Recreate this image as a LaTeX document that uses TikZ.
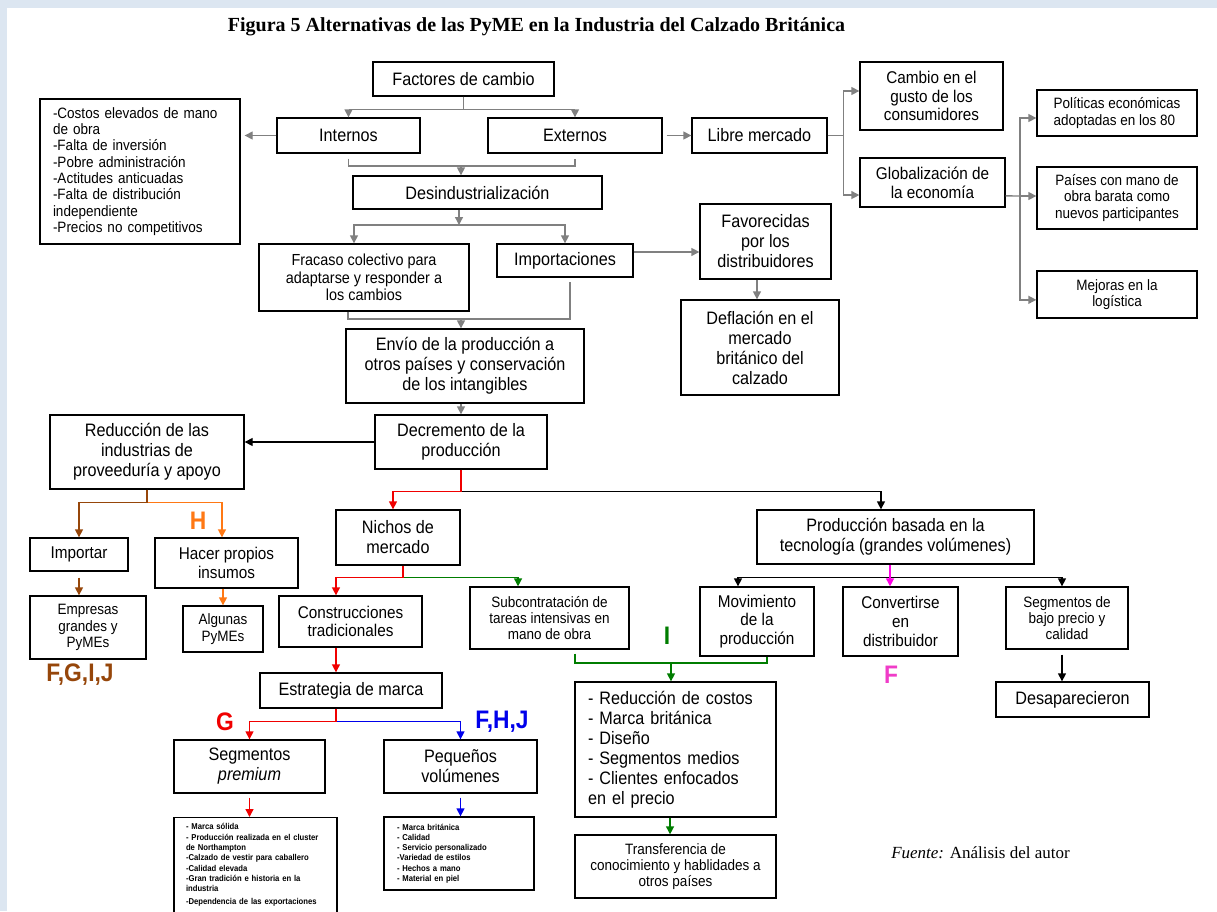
\documentclass[tikz,border=0pt]{standalone}
\usepackage{fontspec}
\setmainfont{Liberation Sans}[FakeStretch=0.9]
\newfontfamily\serifface{Liberation Serif}
\usetikzlibrary{arrows.meta}

\definecolor{bgblue}{RGB}{220,230,241}
\definecolor{lnGray}{RGB}{128,128,128}
\definecolor{clRed}{RGB}{240,0,0}
\definecolor{clBrown}{RGB}{150,70,10}
\definecolor{clOrange}{RGB}{255,120,20}
\definecolor{clGreen}{RGB}{0,125,0}
\definecolor{clBlue}{RGB}{0,0,235}
\definecolor{clPink}{RGB}{255,0,230}
\definecolor{clPinkTxt}{RGB}{240,60,200}

\newcommand\fsL{\fontsize{13.5pt}{15pt}\selectfont}
\newcommand\fsM{\fontsize{12.75pt}{14pt}\selectfont}
\newcommand\fsF{\fontsize{12pt}{13.3pt}\selectfont}
\newcommand\fsS{\fontsize{11.25pt}{12.2pt}\selectfont}
\newcommand\fsT{\fontsize{6.4pt}{7.7pt}\selectfont\bfseries}

\begin{document}
\begin{tikzpicture}[x=0.75pt,y=-0.75pt,>={Triangle[length=6pt,width=6pt]},
  box/.style={rectangle, draw, line width=1pt, align=center, inner sep=0pt, font=\fsL},
  wh/.style 2 args={minimum width=#1*0.75pt, minimum height=#2*0.75pt},
  lbl/.style={font=\fontsize{19pt}{19pt}\selectfont\bfseries},
  gln/.style={lnGray, line width=1pt},
  garr/.style={gln, ->},
  barr/.style={black, line width=1pt, ->},
  rarr/.style={clRed, line width=1pt, ->},
  brarr/.style={clBrown, line width=1pt, ->},
  orarr/.style={clOrange, line width=1pt, ->},
  grln/.style={clGreen, line width=1pt},
  grarr/.style={grln, ->},
  blarr/.style={clBlue, line width=1pt, ->},
  parr/.style={clPink, line width=1pt, ->}]

\useasboundingbox (0,0) rectangle (1217,911);
\fill[bgblue] (0,0) rectangle (1217,911);
\fill[white] (7,8) rectangle (1217,911);

\node[font=\serifface\bfseries\fontsize{15pt}{15pt}\selectfont] (titulo) at (536.5,27)
{Figura 5 Alternativas de las PyME en la Industria del Calzado Británica};

% upper part
\node[box, wh={181}{34}] (factores) at (463.5,79) {Factores de cambio};
\node[box, wh={200}{145}, font=\fsS, align=left, text width=130.5pt] (causas) at (140,171.5)
{-Costos elevados de mano\\de obra\\-Falta de inversión\\-Pobre administración\\-Actitudes anticuadas\\-Falta de distribución\\independiente\\-Precios no competitivos};
\node[box, wh={143}{35}] (internos) at (348.5,135.5) {Internos};
\node[box, wh={174}{35}] (externos) at (575,135.5) {Externos};
\node[box, wh={135}{35}] (libre) at (759.5,135.5) {Libre mercado};
\node[box, wh={143}{68}, font=\fsM] (cambio) at (931.5,96) {Cambio en el\\gusto de los\\consumidores};
\node[box, wh={145}{49}, font=\fsM] (global) at (932.5,182.5) {Globalización de\\la economía};
\node[box, wh={160}{46}, font=\fsS, align=left] (politicas) at (1117,113) {Políticas económicas\\adoptadas en los 80};
\node[box, wh={160}{62}, font=\fsS] (paises) at (1117,198) {Países con mano de\\obra barata como\\nuevos participantes};
\node[box, wh={160}{47}, font=\fsS] (mejoras) at (1117,294.5) {Mejoras en la\\logística};
\node[box, wh={249}{33}] (desind) at (477.5,192.5) {Desindustrialización};
\node[box, wh={210}{67}, font=\fsF] (fracaso) at (364,277.5) {Fracaso colectivo para\\adaptarse y responder a\\los cambios};
\node[box, wh={136}{33}] (importaciones) at (565,260.5) {Importaciones};
\node[box, wh={131}{75}] (favorecidas) at (765.5,241.5) {Favorecidas\\por los\\distribuidores};
\node[box, wh={158}{95}] (deflacion) at (760,347.5) {Deflación en el\\mercado\\británico del\\calzado};
\node[box, wh={238}{74}] (envio) at (465,366) {Envío de la producción a\\otros países y conservación\\de los intangibles};
\node[box, wh={172}{54}] (decremento) at (461,442) {Decremento de la\\producción};

% left branch
\node[box, wh={194}{74}] (reduccion) at (147,452) {Reducción de las\\industrias de\\proveeduría y apoyo};
\node[box, wh={98}{33}, font=\fsM] (importar) at (79,554.5) {Importar};
\node[box, wh={143}{50}, font=\fsM] (hacer) at (226.5,563) {Hacer propios\\insumos};
\node[box, wh={116}{63}, font=\fsS] (empresas) at (88,627.5) {Empresas\\grandes y\\PyMEs};
\node[box, wh={80}{46}, font=\fsS] (algunas) at (223,629) {Algunas\\PyMEs};

% middle and right branches
\node[box, wh={124}{55}] (nichos) at (398,537.5) {Nichos de\\mercado};
\node[box, wh={277}{54}] (prodtec) at (895.5,537) {Producción basada en la\\tecnología (grandes volúmenes)};
\node[box, wh={143}{51}, font=\fsM] (construcciones) at (350.5,621.5) {Construcciones\\tradicionales};
\node[box, wh={159}{62}, font=\fsS] (subcontrat) at (549.5,618) {Subcontratación de\\tareas intensivas en\\mano de obra};
\node[box, wh={114}{69}, font=\fsM] (movimiento) at (757,621.5) {Movimiento\\de la\\producción};
\node[box, wh={115}{69}, font=\fsM] (convertirse) at (900.5,621.5) {Convertirse\\en\\distribuidor};
\node[box, wh={122}{62}, font=\fsS] (segbajo) at (1067,618) {Segmentos de\\bajo precio y\\calidad};
\node[box, wh={182}{35}] (estrategia) at (351,690.5) {Estrategia de marca};
\node[box, wh={201}{135}, align=left, text width=131.25pt] (ventajas) at (675.5,749.5)
{- Reducción de costos\\- Marca británica\\- Diseño\\- Segmentos medios\\- Clientes enfocados\\en el precio};
\node[box, wh={153}{35}] (desaparecieron) at (1072.5,699.5) {Desaparecieron};
\node[box, wh={151}{53}] (premium) at (249.5,766.5) {Segmentos\\\textit{premium}};
\node[box, wh={153}{53}] (pequenos) at (460.5,766.5) {Pequeños\\volúmenes};
\node[box, minimum width=163*0.75pt, anchor=north, inner ysep=4.5pt, font=\fsT, align=left, text width=104.25pt] (listprem) at (255.5,817)
{- Marca sólida\\- Producción realizada en el cluster\\de Northampton\\-Calzado de vestir para caballero\\-Calidad elevada\\-Gran tradición e historia en la\\industria\\[2pt]-Dependencia de las exportaciones\\[30pt]\mbox{}};
\node[box, wh={150}{73}, font=\fsT, align=left, text width=93pt] (listpeq) at (459,853.5)
{- Marca británica\\- Calidad\\- Servicio personalizado\\-Variedad de estilos\\- Hechos a mano\\- Material en piel};
\node[box, wh={201}{63}, font=\fsS] (transferencia) at (675.5,866.5) {Transferencia de\\conocimiento y hablidades a\\otros países};

\node[font=\serifface\fontsize{12.75pt}{13pt}\selectfont] (fuente) at (980.5,853) {\textit{Fuente:} Análisis del autor};

% letters
\node[lbl, clOrange] (labH) at (198,521) {H};
\node[lbl, clBrown] (labFGIJ) at (80,675) {F,G,I,J};
\node[lbl, clRed] (labG) at (225,722) {G};
\node[lbl, clBlue] (labFHJ) at (502,722) {F,H,J};
\node[lbl, clGreen] (labI) at (667,636) {I};
\node[lbl, clPinkTxt] (labF) at (891,675) {F};

% junction points
\coordinate (j1) at (461,166);
\coordinate (j2) at (459,225);
\coordinate (j4) at (1020,196);
\coordinate (j5) at (461,319);
\coordinate (j6) at (671,663);
\coordinate (impout) at ([yshift=6.4pt]importaciones.east);
\coordinate (favout) at ([xshift=-6.4pt]favorecidas.south);
\coordinate (consout) at ([xshift=-10.9pt]construcciones.south);
\coordinate (segout) at ([xshift=-3.75pt,yshift=-3.75pt]segbajo.south);
\coordinate (techout) at ([xshift=-4.1pt]prodtec.south);
\coordinate (ventout) at ([xshift=-4.1pt]ventajas.south);

% grey connectors
\draw[garr] (factores.south) -- ++(0,13) -| (internos.north);
\draw[garr] (factores.south) -- ++(0,13) -| (externos.north);
\draw[garr, shorten >=3pt] (internos.west) -- (internos.west -| causas.east);
\draw[gln] ([yshift=-3.75pt]internos.south) |- (j1) -| ([yshift=-3.75pt]externos.south);
\draw[garr] (j1) -- (j1 |- desind.north);
\draw[garr, shorten <=3pt] (externos.east) -- (libre.west);
\draw[garr] (libre.east) -- ++(16,0) |- ([yshift=3.75pt]cambio.west);
\draw[garr] (libre.east) -- ++(16,0) |- ([yshift=-9.4pt]global.west);
\draw[gln] ([yshift=-10pt]global.east) -- (j4);
\draw[garr] (j4) |- ([yshift=-3.75pt]politicas.west);
\draw[garr] (j4) -- (j4 -| paises.west);
\draw[garr] (j4) |- ([yshift=-4pt]mejoras.west);
\draw[garr] (desind.south -| j2) -- (j2);
\draw[garr] (j2) -| ([xshift=-7.5pt]fracaso.north);
\draw[garr] (j2) -| (importaciones.north);
\draw[garr] (impout) -- (impout -| favorecidas.west);
\draw[garr] (favout) -- (favout |- deflacion.north);
\draw[gln] ([xshift=-12pt]fracaso.south) |- (j5) -| ([xshift=3.75pt,yshift=-3pt]importaciones.south);
\draw[garr] (j5) -- (j5 |- envio.north);
\draw[garr] (decremento.north |- envio.south) -- (decremento.north);

% coloured connectors
\draw[barr] (decremento.west) -- (decremento.west -| reduccion.east);
\draw[barr] (decremento.south) -- ++(0,22) -| ([xshift=-10.9pt]prodtec.north);
\draw[rarr] (decremento.south) -- ++(0,22) -| ([xshift=-3.75pt]nichos.north);
\draw[orarr] (reduccion.south) -- ++(0,13) -| ([xshift=-3.4pt]hacer.north);
\draw[brarr] (reduccion.south) -- ++(0,13) -| (importar.north);
\draw[brarr] ([yshift=-4.5pt]importar.south) -- (importar.south |- empresas.north);
\draw[orarr] (algunas.north |- hacer.south) -- (algunas.north);
\draw[grarr] ([xshift=3.75pt]nichos.south) -- ++(0,12) -| ([xshift=-23.6pt]subcontrat.north);
\draw[rarr] ([xshift=3.75pt]nichos.south) -- ++(0,12) -| ([xshift=-10.9pt]construcciones.north);
\draw[rarr] (consout) -- (consout |- estrategia.north);
\draw[blarr] ([xshift=-11.25pt]estrategia.south) -- ++(0,13) -| (pequenos.north);
\draw[rarr] ([xshift=-11.25pt]estrategia.south) -- ++(0,13) -| (premium.north);
\draw[rarr] ([yshift=-3pt]premium.south) -- (premium.south |- listprem.north);
\draw[blarr] ([yshift=-3pt]pequenos.south) -- (pequenos.south |- listpeq.north);
\draw[barr] (techout) -- ++(0,13) -| ([xshift=-14.25pt]movimiento.north);
\draw[barr] (techout) -- ++(0,13) -| ([xshift=-3.75pt]segbajo.north);
\draw[parr] (techout) -- (techout |- convertirse.north);
\draw[barr] (segout) -- (segout |- desaparecieron.north);
\draw[grln] ([xshift=19pt,yshift=-3pt]subcontrat.south) |- (j6) -| ([xshift=7.5pt]movimiento.south);
\draw[grarr] (j6) -- (j6 |- ventajas.north);
\draw[grarr] (ventout) -- (ventout |- transferencia.north);

\end{tikzpicture}
\end{document}
